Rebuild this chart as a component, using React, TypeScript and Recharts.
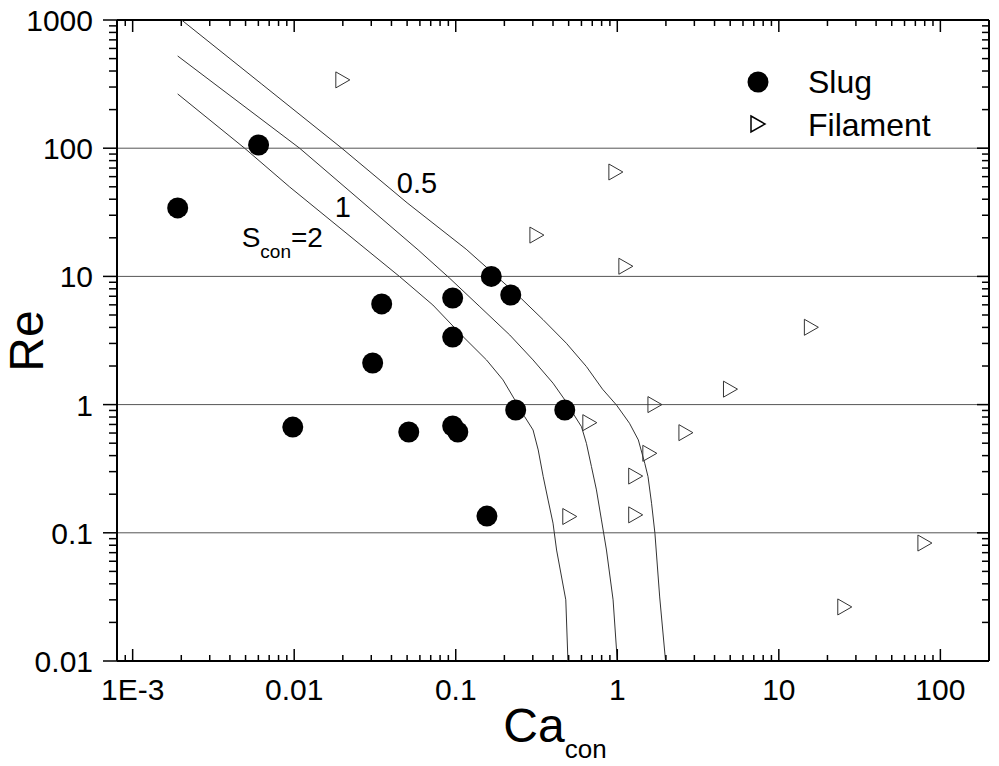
import { ScatterChart, Scatter, XAxis, YAxis, ReferenceLine, ReferenceDot } from 'recharts';

// Slug regime (filled circles)
const slugCa = [0.0019, 0.00602, 0.0098, 0.0306, 0.0348, 0.0512, 0.0957, 0.0957, 0.0957, 0.103, 0.166, 0.219, 0.235, 0.473, 0.156];
const slugRe = [34.2, 106, 0.668, 2.11, 6.1, 0.611, 6.79, 3.36, 0.681, 0.611, 10.0, 7.16, 0.908, 0.908, 0.135];

// Filament regime (open triangles)
const filCa = [0.02, 0.98, 0.318, 1.13, 15.9, 5.02, 1.71, 0.676, 2.66, 1.59, 1.3, 0.508, 1.3, 80.2, 25.6];
const filRe = [341, 65.2, 21.0, 12.0, 4.01, 1.32, 1.0, 0.723, 0.604, 0.417, 0.277, 0.134, 0.138, 0.0832, 0.0264];

// transition curves for S_con = 0.5, 1, 2
const s05Ca = [0.00201, 0.0063, 0.0197, 0.05, 0.116, 0.166, 0.255, 0.347, 0.484, 0.644, 0.81, 0.99, 1.19, 1.35, 1.48, 1.55, 1.63, 1.71, 1.83, 1.99];
const s05Re = [1000, 316, 100, 37.5, 16.3, 10.9, 6.7, 4.6, 3.01, 1.98, 1.32, 0.99, 0.715, 0.53, 0.348, 0.274, 0.17, 0.099, 0.0316, 0.01];
const s1Ca = [0.0019, 0.0108, 0.0585, 0.0918, 0.141, 0.216, 0.301, 0.4, 0.473, 0.532, 0.6, 0.644, 0.692, 0.743, 0.798, 0.857, 0.942, 1.0];
const s1Re = [524, 100, 16.1, 9.66, 5.8, 3.49, 2.23, 1.47, 1.09, 0.855, 0.673, 0.499, 0.328, 0.216, 0.126, 0.0734, 0.03, 0.01];
const s2Ca = [0.0019, 0.00493, 0.00938, 0.045, 0.0722, 0.111, 0.155, 0.196, 0.232, 0.267, 0.301, 0.324, 0.348, 0.373, 0.4, 0.421, 0.48, 0.495];
const s2Re = [265, 100, 49.8, 9.95, 5.98, 3.39, 2.23, 1.56, 1.09, 0.805, 0.634, 0.443, 0.274, 0.18, 0.119, 0.0734, 0.03, 0.01];

const xMajor = [0.001, 0.01, 0.1, 1, 10, 100];
const xMajorLabels = ['1E-3', '0.01', '0.1', '1', '10', '100'];
const yMajor = [0.01, 0.1, 1, 10, 100, 1000];
const yMajorLabels = ['0.01', '0.1', '1', '10', '100', '1000'];
const gridRe = [0.1, 1, 10, 100];

const xDomain = [8e-4, 200];
const yDomain = [0.01, 1000];

// curve labels
const noteCa = [0.0432, 0.0178, 0.00473];
const noteRe = [44.8, 29.0, 16.9];
const noteText = ['0.5', '1', '2'];

const pts = (xs: number[], ys: number[]) => xs.map((x, i) => ({ ca: x, re: ys[i] }));

const minorTicks = (majors: number[], lo: number, hi: number) => {
  const out: number[] = [];
  [majors[0] / 10, ...majors].forEach((d) => {
    for (let m = 1; m <= 9; m++) {
      const v = Number((m * d).toPrecision(6));
      if (v >= lo - 1e-12 && v <= hi + 1e-9) out.push(v);
    }
  });
  return out;
};

const xTicks = minorTicks(xMajor, xDomain[0], xDomain[1]);
const yTicks = minorTicks(yMajor, yDomain[0], yDomain[1]);

const isMajor = (v: number) => Math.abs(Math.log10(v) - Math.round(Math.log10(v))) < 1e-6;
const labelOf = (v: number, majors: number[], labels: string[]) => {
  const i = majors.findIndex((m) => Math.abs(m - v) / m < 1e-6);
  return i >= 0 ? labels[i] : '';
};

const FONT = "Arial, 'Liberation Sans', Helvetica, sans-serif";

const BottomTick = (p: any) => {
  const major = isMajor(p.payload.value);
  return (
    <g>
      <line x1={p.x} y1={p.y} x2={p.x} y2={p.y - (major ? 12 : 6)} stroke="#000" strokeWidth={1.5} />
      {major && (
        <text x={p.x} y={p.y + 39} textAnchor="middle" fontSize={30} fill="#000" fontFamily={FONT}>
          {labelOf(p.payload.value, xMajor, xMajorLabels)}
        </text>
      )}
    </g>
  );
};

const TopTick = (p: any) => {
  const major = isMajor(p.payload.value);
  return <line x1={p.x} y1={p.y} x2={p.x} y2={p.y + (major ? 12 : 6)} stroke="#000" strokeWidth={1.5} />;
};

const LeftTick = (p: any) => {
  const major = isMajor(p.payload.value);
  return (
    <g>
      <line x1={p.x} y1={p.y} x2={p.x - (major ? 14 : 8)} y2={p.y} stroke="#000" strokeWidth={1.5} />
      {major && (
        <text x={p.x - 24} y={p.y + 11} textAnchor="end" fontSize={30} fill="#000" fontFamily={FONT}>
          {labelOf(p.payload.value, yMajor, yMajorLabels)}
        </text>
      )}
    </g>
  );
};

const RightTick = (p: any) => {
  const major = isMajor(p.payload.value);
  return <line x1={p.x} y1={p.y} x2={p.x - (major ? 12 : 7)} y2={p.y} stroke="#000" strokeWidth={1.5} />;
};

const Circle = (p: any) => <circle cx={p.cx} cy={p.cy} r={10.5} fill="#000" />;
const Tri = (p: any) => (
  <path
    d={`M${p.cx - 7},${p.cy - 8} L${p.cx + 7},${p.cy} L${p.cx - 7},${p.cy + 8} Z`}
    fill="none"
    stroke="#333"
    strokeWidth={1}
  />
);
const NoShape = () => <g />;

const noteLabel = (text: string) => (props: any) => {
  const { x, y } = props.viewBox;
  if (text === '2') {
    return (
      <text x={x} y={y} fontSize={28} fill="#000" fontFamily={FONT}>
        S
        <tspan fontSize={19} dy={11}>con</tspan>
        <tspan fontSize={28} dy={-11}>=2</tspan>
      </text>
    );
  }
  return (
    <text x={x} y={y} fontSize={29} fill="#000" fontFamily={FONT}>
      {text}
    </text>
  );
};

const curveLine = { stroke: '#333', strokeWidth: 1 };

export default function App() {
  return (
    <div style={{ position: 'absolute', left: 0, top: 0, width: 999, height: 766, background: '#fff', fontFamily: FONT }}>
      <ScatterChart width={999} height={766} margin={{ top: 10, right: 0, bottom: 0, left: 0 }}>
        <XAxis
          type="number"
          dataKey="ca"
          scale="log"
          domain={xDomain}
          allowDataOverflow
          ticks={xTicks}
          interval={0}
          height={105}
          tickSize={0}
          tickMargin={0}
          tickLine={false}
          axisLine={{ stroke: '#000', strokeWidth: 2 }}
          tick={<BottomTick />}
        />
        <XAxis
          xAxisId="top"
          orientation="top"
          type="number"
          dataKey="ca"
          scale="log"
          domain={xDomain}
          allowDataOverflow
          ticks={xTicks}
          interval={0}
          height={10}
          tickSize={0}
          tickMargin={0}
          tickLine={false}
          axisLine={{ stroke: '#000', strokeWidth: 2 }}
          tick={<TopTick />}
        />
        <YAxis
          type="number"
          dataKey="re"
          scale="log"
          domain={yDomain}
          allowDataOverflow
          ticks={yTicks}
          interval={0}
          width={117}
          tickSize={0}
          tickMargin={0}
          tickLine={false}
          axisLine={{ stroke: '#000', strokeWidth: 2 }}
          tick={<LeftTick />}
        />
        <YAxis
          yAxisId="right"
          orientation="right"
          type="number"
          dataKey="re"
          scale="log"
          domain={yDomain}
          allowDataOverflow
          ticks={yTicks}
          interval={0}
          width={10}
          tickSize={0}
          tickMargin={0}
          tickLine={false}
          axisLine={{ stroke: '#000', strokeWidth: 2 }}
          tick={<RightTick />}
        />
        {gridRe.map((v) => (
          <ReferenceLine key={v} y={v} stroke="#555" strokeWidth={1} />
        ))}
        <Scatter data={pts(s05Ca, s05Re)} line={curveLine} lineType="joint" shape={NoShape} isAnimationActive={false} />
        <Scatter data={pts(s1Ca, s1Re)} line={curveLine} lineType="joint" shape={NoShape} isAnimationActive={false} />
        <Scatter data={pts(s2Ca, s2Re)} line={curveLine} lineType="joint" shape={NoShape} isAnimationActive={false} />
        <Scatter name="Slug" data={pts(slugCa, slugRe)} shape={Circle} isAnimationActive={false} />
        <Scatter name="Filament" data={pts(filCa, filRe)} shape={Tri} isAnimationActive={false} />
        {noteCa.map((c, i) => (
          <ReferenceDot key={i} x={c} y={noteRe[i]} r={0} fill="none" stroke="none" label={noteLabel(noteText[i])} />
        ))}
      </ScatterChart>
      <svg width={999} height={766} style={{ position: 'absolute', left: 0, top: 0, pointerEvents: 'none' }}>
        {/* legend */}
        <circle cx={758} cy={82} r={10.5} fill="#000" />
        <text x={808} y={93} fontSize={32} fontFamily={FONT} fill="#000">Slug</text>
        <path d="M751,116 L765,124 L751,132 Z" fill="none" stroke="#000" strokeWidth={1.5} />
        <text x={808} y={136} fontSize={32} fontFamily={FONT} fill="#000">Filament</text>
        {/* axis titles */}
        <text x={43} y={341} fontSize={48} fontFamily={FONT} fill="#000" textAnchor="middle" transform="rotate(-90 43 341)">
          Re
        </text>
        <text x={555} y={742} fontSize={48} fontFamily={FONT} fill="#000" textAnchor="middle">
          Ca<tspan fontSize={26} dy={16}>con</tspan>
        </text>
      </svg>
    </div>
  );
}
